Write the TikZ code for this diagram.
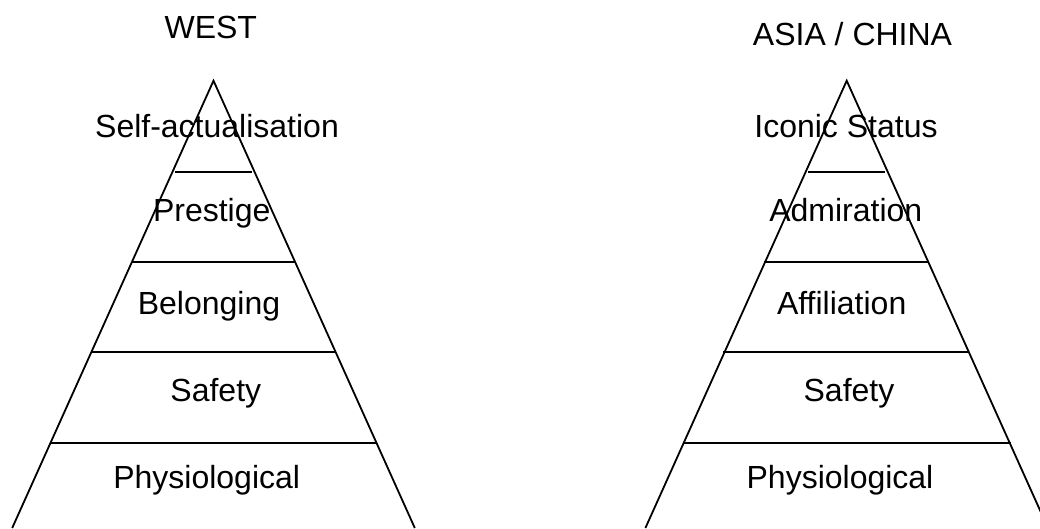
\documentclass[tikz,border=0pt]{standalone}
\usepackage{fontspec}
\setmainfont{Liberation Sans}
\begin{document}
\begin{tikzpicture}[x=1pt,y=-1pt,
  edge/.style={draw=black,line width=1.8pt},
  lvl/.style={draw=black,line width=1.8pt},
  lbl/.style={anchor=base,inner sep=0pt,font=\fontsize{32}{38}\selectfont}]
\useasboundingbox (0,0) rectangle (1040,528);
\clip (0,0) rectangle (1040,528);
% left pyramid
\coordinate (LA) at (213.5,80.7);
\coordinate (LBL) at (12.2,528);
\coordinate (LBR) at (414.8,528);
\draw[edge] (LBL) -- (LA) -- (LBR);
\draw[lvl] (175,171.7) -- (251.7,171.7);
\draw[lvl] (132,262) -- (295.7,262);
\draw[lvl] (91.7,352.3) -- (335,352.3);
\draw[lvl] (51,443.3) -- (377,443.3);
\node[lbl] (lt) at (210.8,38) {WEST};
\node[lbl] (l1) at (217,137.3) {Self-actualisation};
\node[lbl] (l2) at (211.7,221.7) {Prestige};
\node[lbl] (l3) at (209,314) {Belonging};
\node[lbl] (l4) at (215.8,401.7) {Safety};
\node[lbl] (l5) at (206.7,488.3) {Physiological};
% right pyramid
\coordinate (RA) at (846.7,80.7);
\coordinate (RBL) at (645.4,528);
\coordinate (RBR) at (1048,528);
\draw[edge] (RBL) -- (RA) -- (RBR);
\draw[lvl] (808.3,171.7) -- (885,171.7);
\draw[lvl] (764,262) -- (929.3,262);
\draw[lvl] (723.3,352.3) -- (968.3,352.3);
\draw[lvl] (683.3,443.3) -- (1010.7,443.3);
\node[lbl] (rt) at (852.5,45) {ASIA / CHINA};
\node[lbl] (r1) at (846,137.3) {Iconic Status};
\node[lbl] (r2) at (845.8,221.7) {Admiration};
\node[lbl] (r3) at (841.7,314) {Affiliation};
\node[lbl] (r4) at (849,401.7) {Safety};
\node[lbl] (r5) at (840,488.3) {Physiological};
\end{tikzpicture}
\end{document}
